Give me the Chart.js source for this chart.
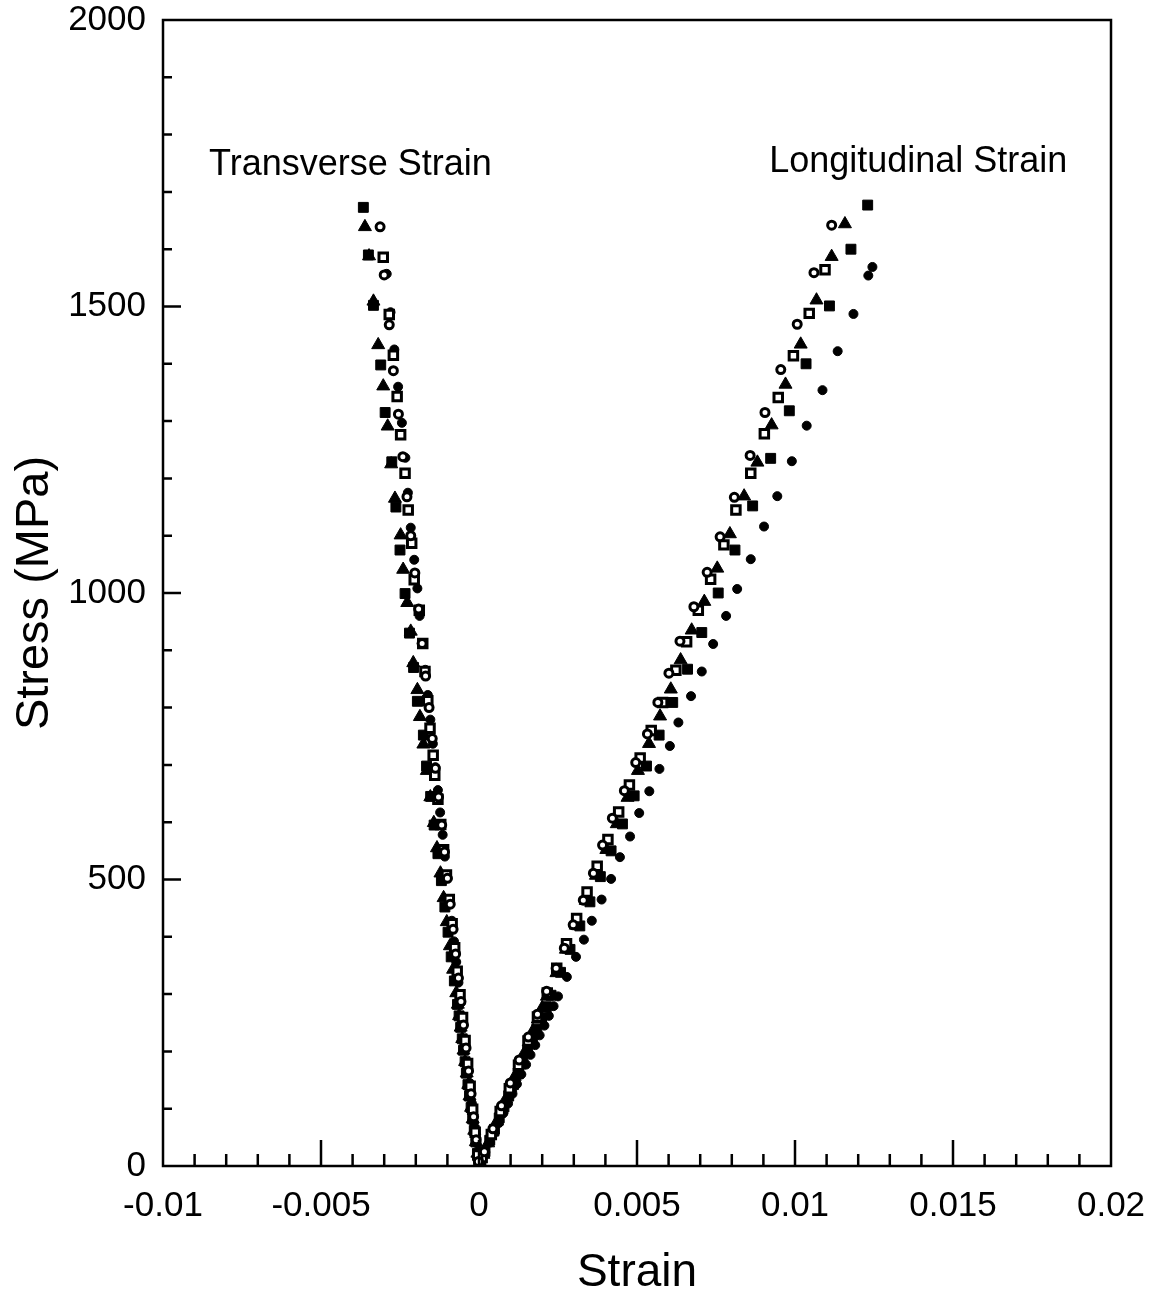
<!DOCTYPE html>
<html lang="en">
<head>
    <meta charset="UTF-8">
    <title>Stress vs Strain</title>
    <script src="https://cdn.jsdelivr.net/npm/chart.js"></script>
    <style>
        body { margin: 0; background: #fff; }
    </style>
</head>
<body>
<canvas id="strain-chart" width="1159" height="1301"></canvas>

<script>
    // [strain, stress MPa] pairs, one list per specimen and branch
    const circleLong = [[0.01116,1642],[0.0106,1559],[0.01007,1469],[0.00955,1390],[0.00905,1315],[0.00858,1240],[0.00808,1167],[0.00763,1098],[0.00722,1036],[0.0068,976],[0.00636,916],[0.00601,860],[0.00566,809],[0.00533,754],[0.00496,704],[0.0046,655],[0.00422,607],[0.00391,560],[0.00362,511],[0.0033,464],[0.00298,421],[0.0027,380],[0.00244,345],[0.00214,305],[0.00185,265],[0.00156,225],[0.00127,185],[0.00099,145],[0.00071,105],[0.00044,65],[0.00017,25],[0.00001,2]];
    const squareLong = [[0.01095,1564],[0.01045,1488],[0.00995,1414],[0.00947,1341],[0.00903,1278],[0.0086,1209],[0.00813,1145],[0.00775,1084],[0.00733,1024],[0.00694,970],[0.00657,915],[0.00623,865],[0.00581,809],[0.00545,760],[0.0051,712],[0.00476,665],[0.00442,618],[0.00408,570],[0.00374,523],[0.00342,478],[0.00309,432],[0.00277,388],[0.00246,345],[0.00216,302],[0.00185,260],[0.00155,218],[0.00125,176],[0.00096,135],[0.00067,95],[0.00039,55],[0.0001,15]];
    const triangleLong = [[0.01158,1644],[0.01116,1587],[0.01068,1511],[0.01018,1434],[0.0097,1364],[0.00926,1293],[0.00881,1228],[0.00839,1169],[0.00794,1103],[0.00754,1043],[0.00713,985],[0.00673,935],[0.00638,883],[0.00607,832],[0.00573,785],[0.00538,737],[0.00503,690],[0.0047,643],[0.00436,597],[0.00403,552],[0.0037,507],[0.00338,463],[0.00306,420],[0.00275,378],[0.00245,337],[0.00215,296],[0.002,276],[0.00186,256],[0.00171,236],[0.00157,216],[0.00142,196],[0.00128,176],[0.00113,156],[0.00099,137],[0.00085,117],[0.00071,98],[0.00057,78],[0.00043,59],[0.00029,40],[0.00014,20],[0.00004,5]];
    const blockLong = [[0.0123,1677],[0.01177,1600],[0.01109,1501],[0.01035,1400],[0.00982,1318],[0.00923,1235],[0.00866,1152],[0.0081,1075],[0.00757,1000],[0.00705,931],[0.0066,867],[0.00613,809],[0.0057,752],[0.0053,698],[0.00491,646],[0.00454,597],[0.00418,550],[0.00384,505],[0.00351,461],[0.00319,419],[0.00288,378],[0.00258,338],[0.00228,298],[0.00213,278],[0.00198,259],[0.00183,239],[0.00169,220],[0.00154,200],[0.00139,181],[0.00124,161],[0.00109,142],[0.00094,122],[0.00079,103],[0.00064,84],[0.00049,64],[0.00034,45],[0.00019,25],[0.00006,8]];
    const dotLong = [[0.01245,1569],[0.01232,1554],[0.01185,1487],[0.01135,1422],[0.01087,1354],[0.01037,1292],[0.0099,1230],[0.00944,1169],[0.00902,1116],[0.0086,1059],[0.00817,1007],[0.00782,960],[0.00741,911],[0.00705,863],[0.00671,820],[0.00631,774],[0.00604,733],[0.00571,693],[0.00539,654],[0.00507,616],[0.00478,575],[0.00446,539],[0.00418,501],[0.00388,465],[0.00357,428],[0.00332,395],[0.00307,365],[0.00278,330],[0.0025,296],[0.00236,279],[0.00221,262],[0.00207,245],[0.00192,228],[0.00178,211],[0.00163,194],[0.00149,177],[0.00134,160],[0.0012,143],[0.00106,126],[0.00092,109],[0.00077,92],[0.00063,75],[0.00049,58],[0.00035,41],[0.0002,24],[0.00007,8]];

    const circleTrans = [[-0.00313,1639],[-0.003,1555],[-0.00284,1468],[-0.00271,1388],[-0.00255,1312],[-0.00241,1238],[-0.00228,1168],[-0.00216,1100],[-0.00203,1035],[-0.00191,972],[-0.0018,912],[-0.00169,855],[-0.00158,800],[-0.00148,746],[-0.00138,694],[-0.00128,644],[-0.00118,595],[-0.00109,548],[-0.001,502],[-0.00091,457],[-0.00082,413],[-0.00074,370],[-0.00065,328],[-0.00057,287],[-0.00049,246],[-0.00041,206],[-0.00033,166],[-0.00025,126],[-0.00017,86],[-0.00009,46],[-0.00002,8]];
    const squareTrans = [[-0.00303,1586],[-0.00284,1486],[-0.00271,1415],[-0.00259,1343],[-0.00248,1276],[-0.00234,1209],[-0.00224,1145],[-0.00213,1087],[-0.00205,1023],[-0.00189,970],[-0.00178,912],[-0.00171,863],[-0.00162,812],[-0.00155,764],[-0.00145,717],[-0.0014,682],[-0.0013,640],[-0.00121,596],[-0.00112,552],[-0.00103,508],[-0.00094,465],[-0.00085,423],[-0.00077,381],[-0.00069,340],[-0.0006,299],[-0.00052,259],[-0.00044,219],[-0.00036,179],[-0.00028,139],[-0.0002,99],[-0.00012,59],[-0.00004,19]];
    const triangleTrans = [[-0.00361,1639],[-0.00348,1588],[-0.00334,1509],[-0.00319,1433],[-0.00303,1361],[-0.00289,1291],[-0.00278,1225],[-0.00266,1165],[-0.00248,1101],[-0.0024,1041],[-0.00227,983],[-0.00216,933],[-0.00208,878],[-0.00195,831],[-0.00187,784],[-0.00176,736],[-0.00165,690],[-0.00154,644],[-0.00143,599],[-0.00133,555],[-0.00122,511],[-0.00112,468],[-0.00102,426],[-0.00092,384],[-0.00082,343],[-0.00072,302],[-0.00067,282],[-0.00063,262],[-0.00058,242],[-0.00053,222],[-0.00049,202],[-0.00044,182],[-0.00039,162],[-0.00034,142],[-0.0003,122],[-0.00025,102],[-0.0002,82],[-0.00015,62],[-0.0001,42],[-0.00005,22]];
    const blockTrans = [[-0.00366,1673],[-0.0035,1590],[-0.00334,1502],[-0.00311,1398],[-0.00297,1315],[-0.00276,1229],[-0.00263,1150],[-0.0025,1075],[-0.00234,999],[-0.0022,930],[-0.00207,870],[-0.00195,811],[-0.00176,752],[-0.00166,698],[-0.00153,645],[-0.00142,595],[-0.0013,545],[-0.00119,498],[-0.00108,452],[-0.00098,408],[-0.00088,365],[-0.00078,323],[-0.00068,282],[-0.00063,262],[-0.00058,242],[-0.00053,222],[-0.00049,202],[-0.00044,182],[-0.0004,162],[-0.00035,142],[-0.0003,122],[-0.00025,102],[-0.0002,82],[-0.00015,62],[-0.0001,42],[-0.00005,22],[-0.00001,5]];
    const dotTrans = [[-0.00292,1557],[-0.0028,1490],[-0.00268,1425],[-0.00256,1360],[-0.00244,1297],[-0.00233,1236],[-0.00225,1175],[-0.00216,1114],[-0.00205,1058],[-0.00195,1008],[-0.00188,960],[-0.00181,912],[-0.0017,866],[-0.00162,822],[-0.00154,779],[-0.00146,737],[-0.00138,696],[-0.0013,656],[-0.00123,617],[-0.00115,578],[-0.00108,540],[-0.001,502],[-0.00093,465],[-0.00086,428],[-0.00079,392],[-0.00072,356],[-0.00065,320],[-0.00058,285],[-0.00051,250],[-0.00044,215],[-0.00037,180],[-0.0003,145],[-0.00023,110],[-0.00016,75],[-0.00008,40],[-0.00002,10]];

    const xTickLabels = ['-0.01', '-0.005', '0', '0.005', '0.01', '0.015', '0.02'];
    const yTickLabels = ['0', '500', '1000', '1500', '2000'];

    const FONT = "'Liberation Sans', Arial, Helvetica, sans-serif";

    const toPoints = arr => arr.map(p => ({ x: p[0], y: p[1] }));

    const series = (data, style, radius, fill, border) => ({
        data: toPoints(data),
        pointStyle: style,
        pointRadius: radius,
        pointBackgroundColor: fill,
        pointBorderColor: '#000',
        pointBorderWidth: border,
        showLine: false
    });

    // no automatic label overhang, the layout padding decides the plot box
    const noOverhang = s => {
        s.paddingTop = 0;
        s.paddingBottom = 0;
        s.paddingLeft = 0;
        s.paddingRight = 0;
    };

    // inward tick marks, frame and the two curve labels
    const framePlugin = {
        id: 'frame',
        afterDraw(chart) {
            const { ctx, chartArea: a, scales: { x, y } } = chart;
            ctx.save();
            ctx.strokeStyle = '#000';
            ctx.lineWidth = 2.5;
            ctx.beginPath();
            for (let i = -9; i < 20; i++) {
                const px = x.getPixelForValue(i / 1000);
                const len = i % 5 === 0 ? 26 : 12;
                ctx.moveTo(px, a.bottom);
                ctx.lineTo(px, a.bottom - len);
            }
            for (let i = 1; i < 20; i++) {
                const py = y.getPixelForValue(i * 100);
                const len = i % 5 === 0 ? 18 : 9;
                ctx.moveTo(a.left, py);
                ctx.lineTo(a.left + len, py);
            }
            ctx.stroke();
            ctx.strokeRect(a.left, a.top, a.right - a.left, a.bottom - a.top);

            ctx.fillStyle = '#000';
            ctx.font = '36px ' + FONT;
            ctx.textAlign = 'center';
            ctx.textBaseline = 'middle';
            ctx.fillText('Transverse Strain', x.getPixelForValue(-0.00407), y.getPixelForValue(1747));
            ctx.fillText('Longitudinal Strain', x.getPixelForValue(0.0139), y.getPixelForValue(1752));
            ctx.restore();
        }
    };

    new Chart(document.getElementById('strain-chart').getContext('2d'), {
        type: 'scatter',
        data: {
            datasets: [
                series(circleLong.concat(circleTrans), 'circle', 4, '#fff', 3),
                series(squareLong.concat(squareTrans), 'rect', 6, '#fff', 3),
                series(triangleLong.concat(triangleTrans), 'triangle', 7.5, '#000', 1),
                series(blockLong.concat(blockTrans), 'rect', 7, '#000', 1),
                series(dotLong.concat(dotTrans), 'circle', 4.5, '#000', 1)
            ]
        },
        options: {
            responsive: false,
            animation: false,
            layout: { padding: { top: 20, right: 48, left: 0, bottom: 0 } },
            plugins: {
                legend: { display: false },
                tooltip: { enabled: false }
            },
            scales: {
                x: {
                    type: 'linear',
                    min: -0.01,
                    max: 0.02,
                    afterFit: s => { s.height = 135; noOverhang(s); },
                    afterBuildTicks: s => {
                        s.ticks = xTickLabels.map(t => ({ value: parseFloat(t) }));
                    },
                    ticks: {
                        color: '#000',
                        padding: 19,
                        maxRotation: 0,
                        autoSkip: false,
                        font: { family: FONT, size: 35 },
                        callback: (v, i) => xTickLabels[i]
                    },
                    grid: { display: false, drawTicks: false },
                    border: { display: false },
                    title: {
                        display: true,
                        text: 'Strain',
                        color: '#000',
                        padding: 0,
                        font: { family: FONT, size: 46 }
                    }
                },
                y: {
                    type: 'linear',
                    min: 0,
                    max: 2000,
                    afterFit: s => { s.width = 163; noOverhang(s); },
                    afterBuildTicks: s => {
                        s.ticks = yTickLabels.map(t => ({ value: parseFloat(t) }));
                    },
                    ticks: {
                        color: '#000',
                        padding: 17,
                        autoSkip: false,
                        font: { family: FONT, size: 35 },
                        callback: (v, i) => yTickLabels[i]
                    },
                    grid: { display: false, drawTicks: false },
                    border: { display: false },
                    title: {
                        display: true,
                        text: 'Stress (MPa)',
                        color: '#000',
                        padding: { top: 7, bottom: 0 },
                        font: { family: FONT, size: 47 }
                    }
                }
            }
        },
        plugins: [framePlugin]
    });
</script>
</body>
</html>
